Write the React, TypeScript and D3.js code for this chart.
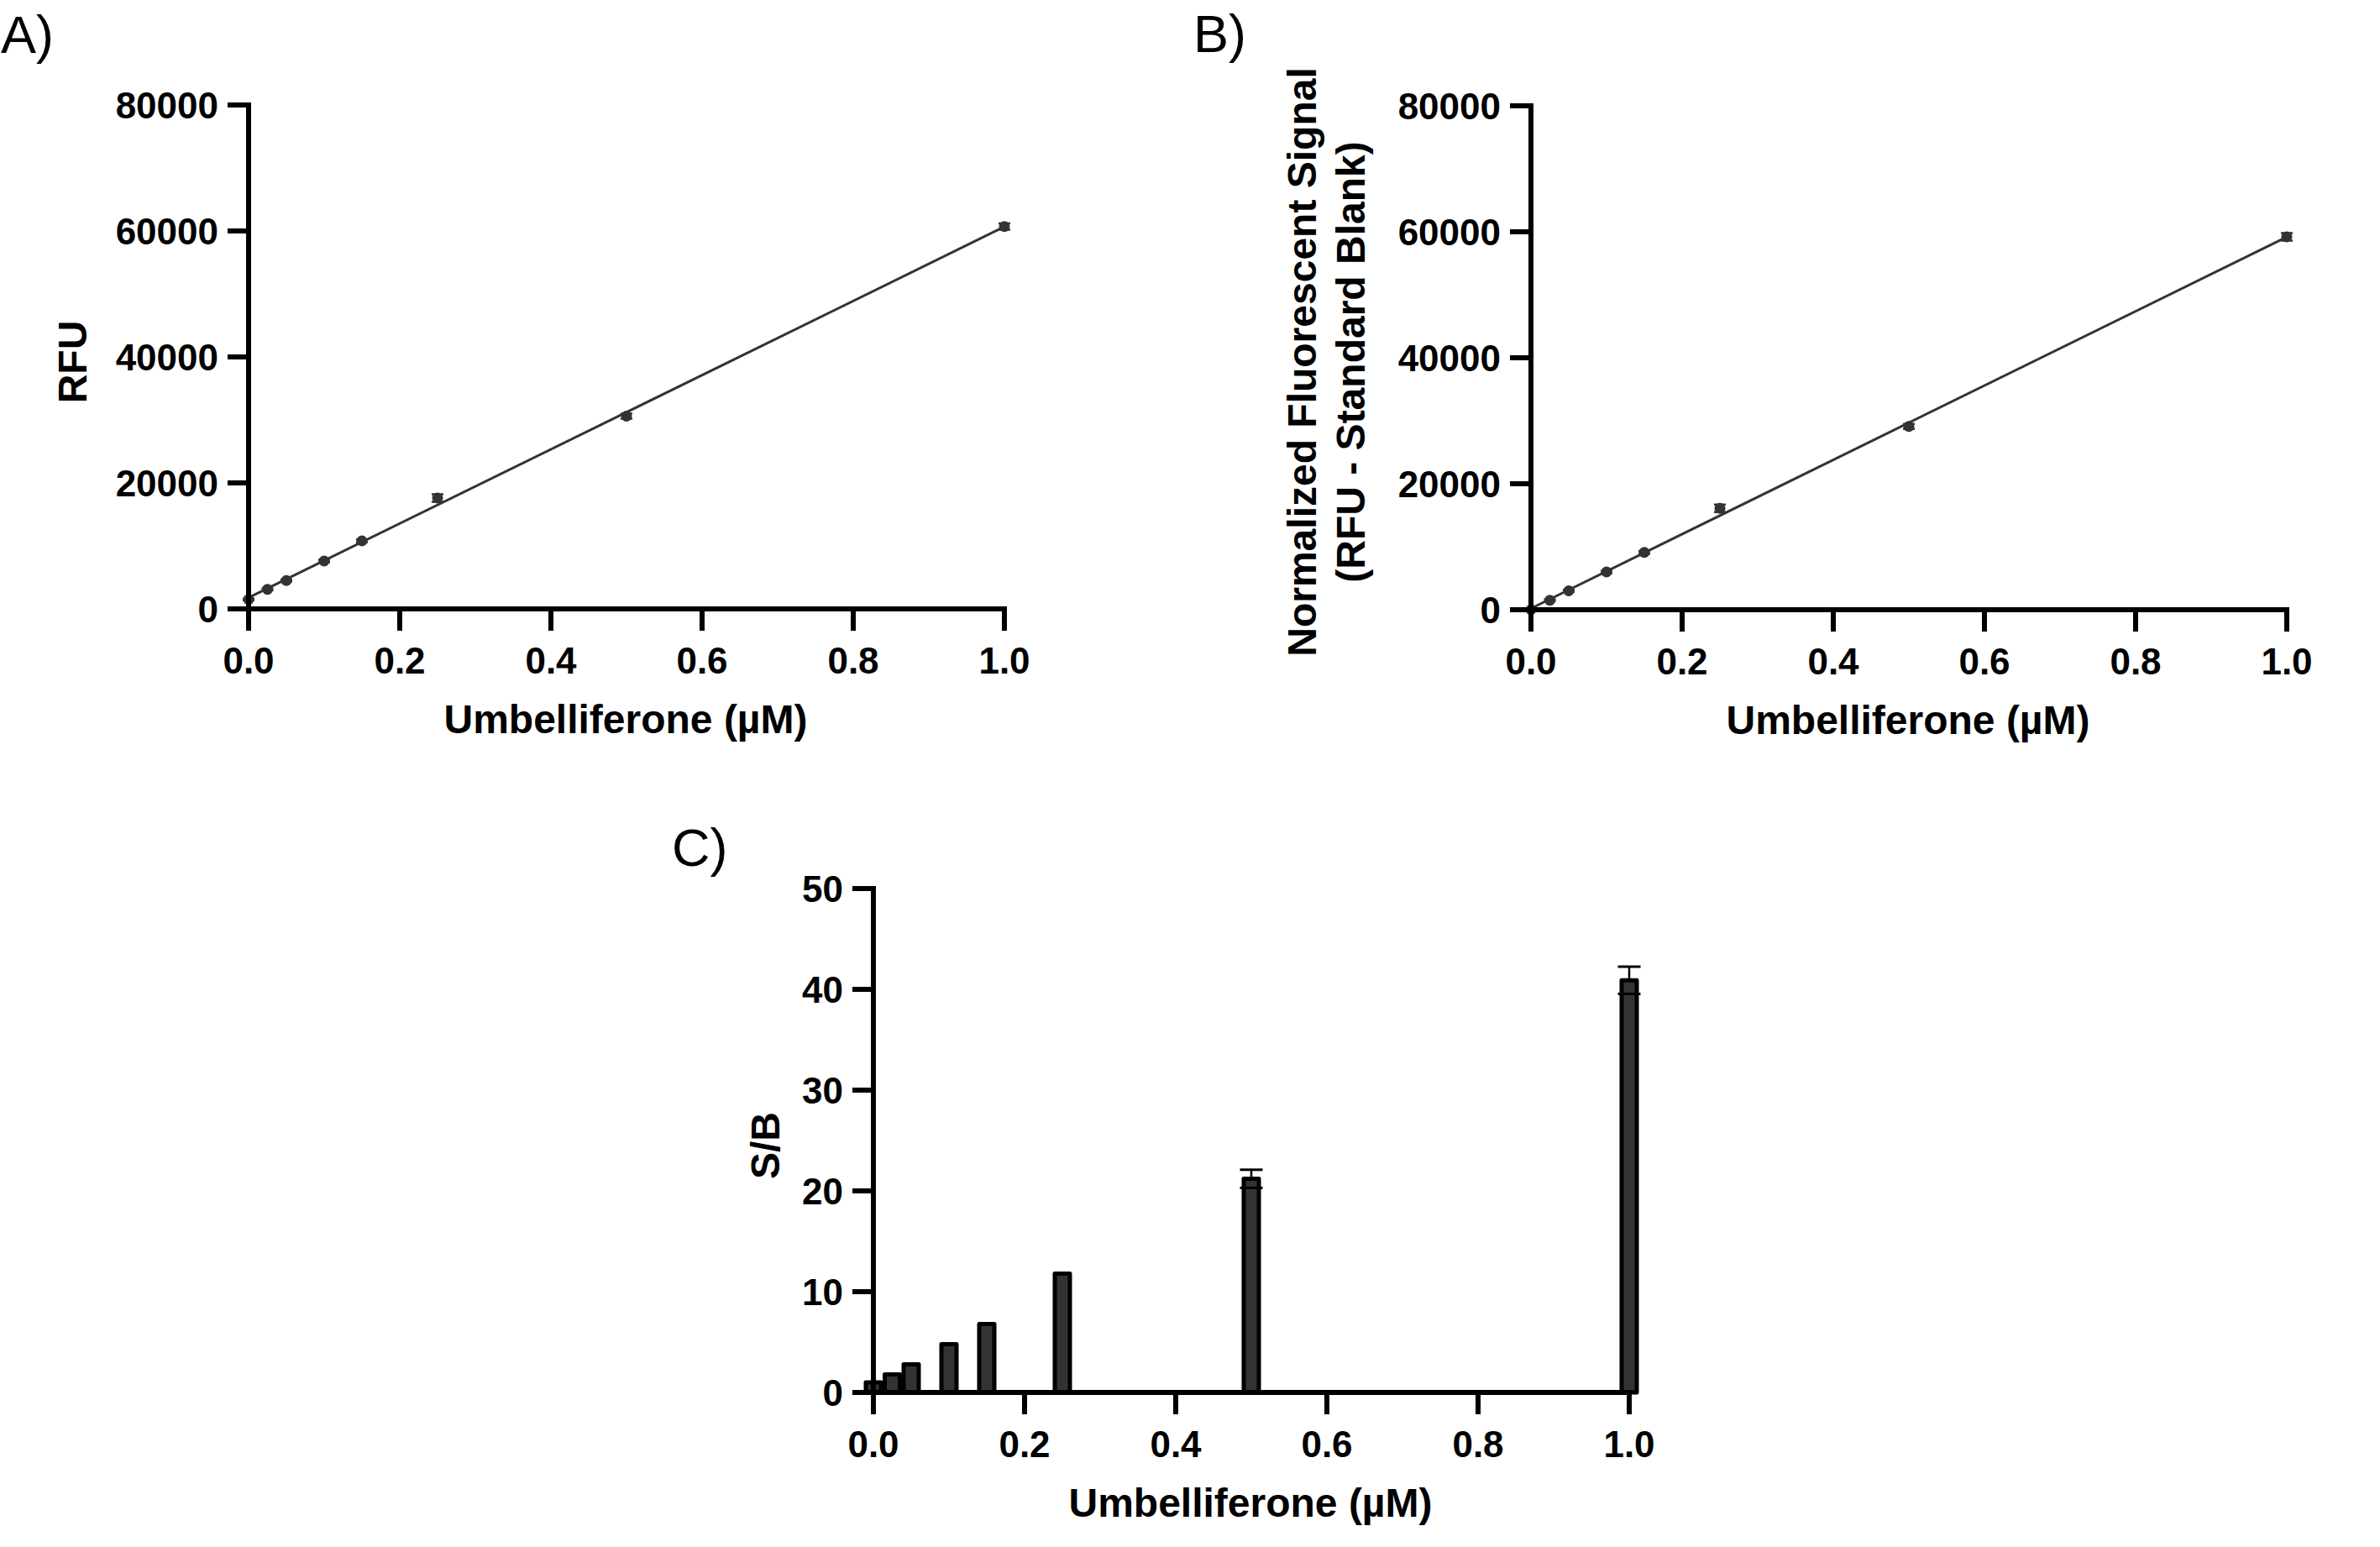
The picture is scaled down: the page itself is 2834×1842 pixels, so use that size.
import React from 'react'
import * as d3 from 'd3'

// Umbelliferone standard (µM)
const concentrations = [0, 0.025, 0.05, 0.1, 0.15, 0.25, 0.5, 1.0]

// A) raw RFU
const rfuMean = [1500, 3100, 4500, 7600, 10800, 17600, 30600, 60700]
const rfuSd = [120, 150, 150, 200, 220, 600, 400, 500]

// B) RFU minus standard blank
const normMean = [0, 1500, 3000, 6000, 9100, 16100, 29100, 59200]
const normSd = [120, 150, 150, 200, 220, 600, 400, 600]

// C) signal / blank
const sbMean = [1.0, 1.8, 2.8, 4.8, 6.8, 11.8, 21.2, 40.9]
const sbSd = [0, 0, 0, 0, 0, 0, 0.9, 1.35]

const xTicks = [0, 0.2, 0.4, 0.6, 0.8, 1.0]
const rfuTicks = [0, 20000, 40000, 60000, 80000]
const sbTicks = [0, 10, 20, 30, 40, 50]

const FONT = "'Liberation Sans', Arial, Helvetica, sans-serif"
const INK = '#333333'
const W = 900
const H = 600

function fitLine(xs: number[], ys: number[]) {
    const mx = d3.mean(xs) as number
    const my = d3.mean(ys) as number
    const sxy = d3.sum(xs, (x, i) => (x - mx) * (ys[i] - my))
    const sxx = d3.sum(xs, x => (x - mx) * (x - mx))
    const slope = sxy / sxx
    return { slope, intercept: my - slope * mx }
}

function Axes({ x, y, yTicks, yFmt }: { x: d3.ScaleLinear<number, number>; y: d3.ScaleLinear<number, number>; yTicks: number[]; yFmt: (v: number) => string }) {
    const x0 = x(0)
    const y0 = y(0)
    return (
        <g fontFamily={FONT} fontWeight="bold" fontSize={44} fill="#000">
            <line x1={x0} x2={x(1)} y1={y0} y2={y0} stroke="#000" strokeWidth={6} strokeLinecap="square" />
            <line x1={x0} x2={x0} y1={y(yTicks[yTicks.length - 1])} y2={y0} stroke="#000" strokeWidth={6} strokeLinecap="square" />
            {xTicks.map(t => (
                <g key={'x' + t}>
                    <line x1={x(t)} x2={x(t)} y1={y0} y2={y0 + 26} stroke="#000" strokeWidth={6} />
                    <text x={x(t)} y={y0 + 77} textAnchor="middle">{d3.format('.1f')(t)}</text>
                </g>
            ))}
            {yTicks.map(t => (
                <g key={'y' + t}>
                    <line x1={x0 - 25} x2={x0} y1={y(t)} y2={y(t)} stroke="#000" strokeWidth={6} />
                    <text x={x0 - 36} y={y(t)} dy="0.36em" textAnchor="end">{yFmt(t)}</text>
                </g>
            ))}
            <text x={(x0 + x(1)) / 2 - 1} y={y0 + 148} textAnchor="middle" fontSize={48}>Umbelliferone (µM)</text>
        </g>
    )
}

function ScatterPanel({ left, top, means, sds }: { left: number; top: number; means: number[]; sds: number[] }) {
    const x = d3.scaleLinear().domain([0, 1]).range([left, left + W])
    const y = d3.scaleLinear().domain([0, 80000]).range([top + H, top])
    const fit = fitLine(concentrations, means)
    const line = d3.line<number>().x(d => x(d)).y(d => y(fit.intercept + fit.slope * d))
    return (
        <g>
            <path d={line([0, 1]) || ''} fill="none" stroke={INK} strokeWidth={3} />
            {concentrations.map((c, i) => (
                <g key={c}>
                    <line x1={x(c)} x2={x(c)} y1={y(means[i] - sds[i])} y2={y(means[i] + sds[i])} stroke={INK} strokeWidth={2} />
                    <line x1={x(c) - 7} x2={x(c) + 7} y1={y(means[i] + sds[i])} y2={y(means[i] + sds[i])} stroke={INK} strokeWidth={2.5} />
                    <line x1={x(c) - 7} x2={x(c) + 7} y1={y(means[i] - sds[i])} y2={y(means[i] - sds[i])} stroke={INK} strokeWidth={2.5} />
                    <circle cx={x(c)} cy={y(means[i])} r={6.5} fill={INK} />
                </g>
            ))}
            <Axes x={x} y={y} yTicks={rfuTicks} yFmt={d3.format('d')} />
        </g>
    )
}

function BarPanel({ left, top }: { left: number; top: number }) {
    const x = d3.scaleLinear().domain([0, 1]).range([left, left + W])
    const y = d3.scaleLinear().domain([0, 50]).range([top + H, top])
    const bw = 18
    return (
        <g>
            {concentrations.map((c, i) => (
                <rect key={c} x={x(c) - bw / 2} y={y(sbMean[i])} width={bw} height={y(0) - y(sbMean[i])}
                    fill={INK} stroke="#000" strokeWidth={5} strokeLinejoin="round" />
            ))}
            {concentrations.map((c, i) => sbSd[i] > 0 && (
                <g key={'e' + c} stroke="#000">
                    <line x1={x(c)} x2={x(c)} y1={y(sbMean[i])} y2={y(sbMean[i] + sbSd[i])} strokeWidth={2.5} />
                    <line x1={x(c) - 13.5} x2={x(c) + 13.5} y1={y(sbMean[i] + sbSd[i])} y2={y(sbMean[i] + sbSd[i])} strokeWidth={3} />
                    <line x1={x(c) - 13.5} x2={x(c) + 13.5} y1={y(sbMean[i] - sbSd[i])} y2={y(sbMean[i] - sbSd[i])} strokeWidth={3} />
                </g>
            ))}
            <Axes x={x} y={y} yTicks={sbTicks} yFmt={d3.format('d')} />
        </g>
    )
}

export default function App() {
    return (
        <div style={{ position: 'absolute', left: 0, top: 0 }}>
            <svg width={2834} height={1842} viewBox="0 0 2834 1842" style={{ display: 'block', background: '#fff' }}>
                <rect width={2834} height={1842} fill="#fff" />
                <g fontFamily={FONT} fontSize={63} fill="#000">
                    <text x={1} y={63}>A)</text>
                    <text x={1421} y={62}>B)</text>
                    <text x={800} y={1031}>C)</text>
                </g>

                <ScatterPanel left={296} top={125} means={rfuMean} sds={rfuSd} />
                <ScatterPanel left={1823} top={126} means={normMean} sds={normSd} />
                <BarPanel left={1040} top={1058} />

                <g fontFamily={FONT} fontWeight="bold" fontSize={48} fill="#000" textAnchor="middle">
                    <text transform="translate(103,431) rotate(-90)">RFU</text>
                    <text transform="translate(1567,431) rotate(-90)">Normalized Fluorescent Signal</text>
                    <text transform="translate(1625,431) rotate(-90)">(RFU - Standard Blank)</text>
                    <text transform="translate(928,1364) rotate(-90)">S/B</text>
                </g>
            </svg>
        </div>
    )
}
